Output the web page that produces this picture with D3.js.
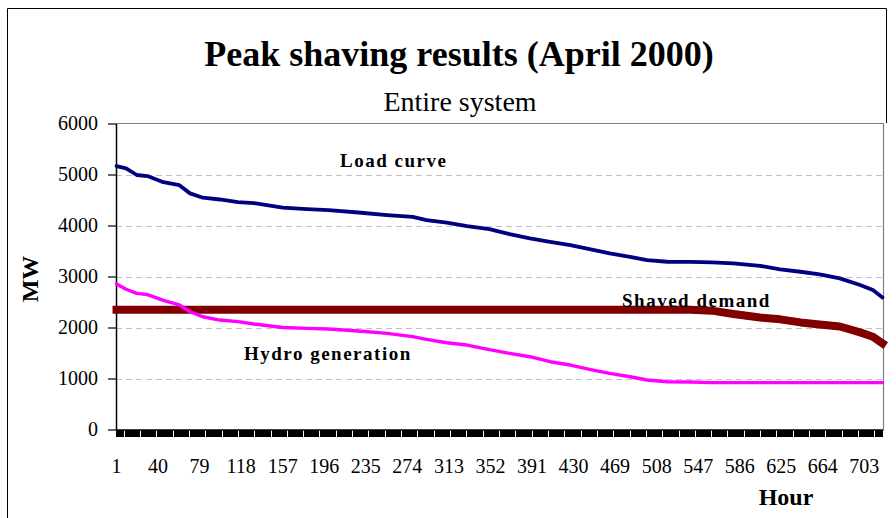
<!DOCTYPE html>
<html>
<head>
<meta charset="utf-8">
<script src="https://cdn.jsdelivr.net/npm/d3@7"></script>
<style>
  body { margin: 0; background: #fff; }
  svg { display: block; }
  svg text { font-family: "Liberation Serif", "Times New Roman", serif !important; fill: #000; }
</style>
</head>
<body>
<svg id="chart"></svg>
<script>
// hours of the month, 720 categories
const hours = d3.range(1, 721);
const hourLabels = [1, 40, 79, 118, 157, 196, 235, 274, 313, 352, 391, 430, 469, 508, 547, 586, 625, 664, 703];
const yTicks = [0, 1000, 2000, 3000, 4000, 5000, 6000];

// values at these hours
const sampleHours = [1, 10, 20, 30, 45, 60, 70, 82, 98, 115, 130, 157, 180, 200, 228, 255, 279, 292, 311, 330,
    351, 370, 389, 408, 427, 445, 464, 483, 499, 518, 540, 560, 580, 605, 624, 643, 661, 680, 699, 711, 720];

const loadCurve = [5165, 5120, 4990, 4970, 4850, 4790, 4630, 4545, 4510, 4460, 4440, 4350, 4320, 4300, 4255, 4205, 4170, 4105, 4055, 3990,
    3930, 3832, 3747, 3681, 3616, 3538, 3453, 3387, 3322, 3289, 3285, 3275, 3257, 3210, 3140, 3093, 3042, 2963, 2832, 2734, 2590];

const hydroGen = [2852, 2750, 2669, 2645, 2530, 2445, 2309, 2210, 2146, 2115, 2068, 2000, 1983, 1970, 1930, 1885, 1820, 1768, 1701, 1656,
    1565, 1493, 1427, 1329, 1264, 1180, 1101, 1035, 970, 937, 930, 920, 920, 920, 920, 920, 920, 920, 920, 920, 920];

const shavedDemand = [2350, 2350, 2350, 2350, 2350, 2350, 2350, 2350, 2350, 2350, 2350, 2350, 2350, 2350, 2350, 2350, 2350, 2350, 2350, 2350,
    2350, 2350, 2350, 2350, 2350, 2350, 2350, 2350, 2350, 2350, 2350, 2330, 2265, 2195, 2160, 2100, 2060, 2020, 1905, 1820, 1690];

const width = 896;
const height = 518;
const plot = { left: 116, right: 883, top: 123.5, bottom: 429.5 };
const serif = '"Liberation Serif", "Times New Roman", serif';

const svg = d3.select('svg#chart')
    .attr('width', width)
    .attr('height', height);

// chart area border
svg.append('path')
    .attr('d', 'M7.5,518 V8.5 H886.5 V123')
    .attr('fill', 'none')
    .attr('stroke', '#000')
    .attr('stroke-width', 1);

const x = d3.scaleBand()
    .domain(hours)
    .range([plot.left, plot.right])
    .padding(0);

const y = d3.scaleLinear()
    .domain([0, 6000])
    .range([plot.bottom, plot.top]);

const cx = h => x(h) + x.bandwidth() / 2;

// gridlines
svg.append('g')
    .selectAll('line')
    .data(yTicks.filter(t => t > 0 && t < 6000))
    .join('line')
    .attr('x1', plot.left)
    .attr('x2', plot.right)
    .attr('y1', d => Math.round(y(d)) + 0.5)
    .attr('y2', d => Math.round(y(d)) + 0.5)
    .attr('stroke', '#c0c0c0')
    .attr('stroke-dasharray', '6,4');

// plot frame top / right
svg.append('path')
    .attr('d', `M${plot.left},${plot.top} H${plot.right + 0.5} V${plot.bottom}`)
    .attr('fill', 'none')
    .attr('stroke', '#808080')
    .attr('stroke-width', 1.2);

// x axis with a tick for every hour
const xAxis = svg.append('g')
    .attr('transform', `translate(0,${plot.bottom})`)
    .attr('font-family', serif)
    .call(d3.axisBottom(x)
        .tickValues(hours)
        .tickSizeInner(7)
        .tickSizeOuter(0)
        .tickPadding(22)
        .tickFormat(d => hourLabels.includes(d) ? String(d) : ''));
xAxis.attr('font-family', serif);
xAxis.select('.domain').attr('stroke', '#000').attr('stroke-width', 1.5);
xAxis.selectAll('.tick line')
    .attr('stroke', '#000')
    .attr('stroke-width', 1)
    .attr('shape-rendering', 'crispEdges');
xAxis.selectAll('.tick text').attr('font-size', 20);

// y axis
const yAxis = svg.append('g')
    .attr('transform', `translate(${plot.left},0)`)
    .call(d3.axisLeft(y)
        .tickValues(yTicks)
        .tickSizeInner(8)
        .tickSizeOuter(0)
        .tickPadding(10)
        .tickFormat(d => String(d)));
yAxis.attr('font-family', serif);
yAxis.select('.domain').attr('stroke', '#000').attr('stroke-width', 1.5);
yAxis.selectAll('.tick line').attr('stroke', '#000').attr('stroke-width', 1.2);
yAxis.selectAll('.tick text').attr('font-size', 20);

const series = [
    { name: 'Shaved demand', values: shavedDemand, color: '#800000', w: 8 },
    { name: 'Hydro generation', values: hydroGen, color: '#ff00ff', w: 3.4 },
    { name: 'Load curve', values: loadCurve, color: '#000080', w: 3.8 }
];

const line = d3.line()
    .x((d, i) => cx(sampleHours[i]))
    .y(d => y(d));

svg.append('g')
    .selectAll('path')
    .data(series)
    .join('path')
    .attr('d', d => line(d.values))
    .attr('fill', 'none')
    .attr('stroke', d => d.color)
    .attr('stroke-width', d => d.w)
    .attr('stroke-linecap', d => d.w > 5 ? 'square' : 'round')
    .attr('stroke-linejoin', 'round');

// in-chart labels
const notes = [
    { text: 'Load curve', x: 340, y: 167 },
    { text: 'Shaved demand', x: 622, y: 307 },
    { text: 'Hydro generation', x: 244, y: 360 }
];
svg.append('g')
    .selectAll('text')
    .data(notes)
    .join('text')
    .attr('x', d => d.x)
    .attr('y', d => d.y)
    .attr('font-size', 19)
    .attr('font-weight', 'bold')
    .attr('letter-spacing', 1.5)
    .text(d => d.text);

// titles
svg.append('text')
    .attr('x', 459)
    .attr('y', 66)
    .attr('text-anchor', 'middle')
    .attr('font-size', 36)
    .attr('font-weight', 'bold')
    .text('Peak shaving results (April 2000)');

svg.append('text')
    .attr('x', 460)
    .attr('y', 111)
    .attr('text-anchor', 'middle')
    .attr('font-size', 28)
    .text('Entire system');

svg.append('text')
    .attr('transform', 'translate(38,279) rotate(-90)')
    .attr('text-anchor', 'middle')
    .attr('font-size', 24)
    .attr('font-weight', 'bold')
    .text('MW');

svg.append('text')
    .attr('x', 786)
    .attr('y', 505)
    .attr('text-anchor', 'middle')
    .attr('font-size', 24)
    .attr('font-weight', 'bold')
    .text('Hour');
</script>
</body>
</html>
